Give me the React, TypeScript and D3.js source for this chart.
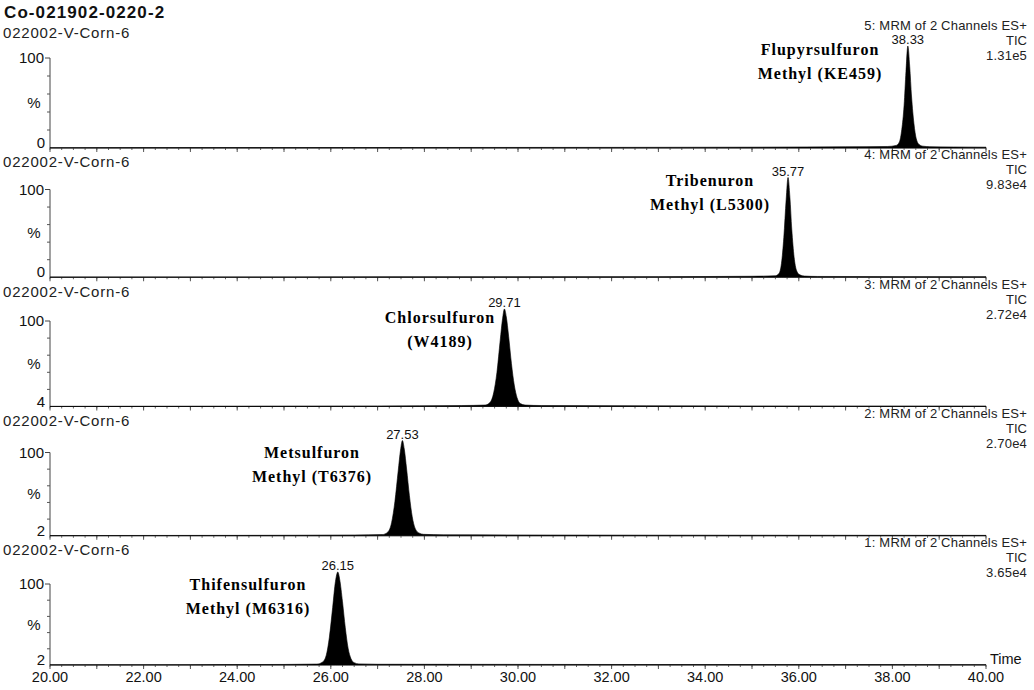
import * as d3 from "d3";

// time axis (minutes)
const timeTicks = [20, 22, 24, 26, 28, 30, 32, 34, 36, 38, 40];

// channels, top to bottom
const channels = [5, 4, 3, 2, 1];
const sampleName = "022002-V-Corn-6";
const runTitle = "Co-021902-0220-2";
const channelTitle = "MRM of 2 Channels ES+";
const intensities = ["1.31e5", "9.83e4", "2.72e4", "2.70e4", "3.65e4"];
const baseLabels = ["0", "0", "4", "2", "2"];
const peakTimes = [38.33, 35.77, 29.71, 27.53, 26.15];
const nameLine1 = ["Flupyrsulfuron", "Tribenuron", "Chlorsulfuron", "Metsulfuron", "Thifensulfuron"];
const nameLine2 = ["Methyl (KE459)", "Methyl (L5300)", "(W4189)", "Methyl (T6376)", "Methyl (M6316)"];

// traces: [time, %]
const trace5 = [
  [20, 0.3], [24, 0.4], [28, 0.5], [32, 0.6], [35, 0.8], [37, 1.2], [37.9, 1.5], [38.08, 2.5],
  [38.15, 6], [38.2, 18], [38.25, 42], [38.29, 75], [38.33, 100], [38.37, 80], [38.41, 50],
  [38.46, 24], [38.51, 9], [38.57, 3.5], [38.65, 1.8], [38.8, 1.3], [39.3, 1], [40, 0.8],
];
const trace4 = [
  [20, 0.2], [25, 0.3], [30, 0.4], [33, 0.6], [35, 1], [35.5, 1.5], [35.58, 4], [35.63, 14],
  [35.68, 40], [35.73, 78], [35.77, 100], [35.81, 80], [35.85, 48], [35.9, 20], [35.95, 7],
  [36.02, 2.5], [36.12, 1.2], [36.4, 0.8], [40, 0.5],
];
const trace3 = [
  [20, 0.2], [24, 0.4], [27, 0.6], [28.8, 1], [29.3, 1.5], [29.4, 4], [29.48, 14], [29.55, 35],
  [29.62, 68], [29.67, 90], [29.71, 100], [29.75, 92], [29.8, 72], [29.86, 44], [29.92, 22],
  [29.98, 9], [30.05, 3], [30.15, 1.5], [30.5, 1], [35, 0.6], [40, 0.5],
];
const trace2 = [
  [20, 0.2], [24, 0.4], [26.5, 0.8], [27.1, 1.2], [27.22, 4], [27.3, 14], [27.37, 36], [27.44, 68],
  [27.49, 90], [27.53, 100], [27.57, 91], [27.62, 70], [27.68, 42], [27.74, 20], [27.8, 8],
  [27.88, 3], [27.98, 1.5], [28.4, 1], [33, 0.6], [40, 0.4],
];
const trace1 = [
  [20, 0.2], [23, 0.3], [25, 0.6], [25.7, 1], [25.82, 3], [25.9, 10], [25.97, 30], [26.04, 62],
  [26.1, 90], [26.15, 100], [26.19, 92], [26.25, 68], [26.31, 40], [26.37, 18], [26.43, 7],
  [26.5, 2.5], [26.6, 1.2], [27, 0.8], [33, 0.5], [40, 0.4],
];
const traces = [trace5, trace4, trace3, trace2, trace1];

// layout
const W = 1034;
const H = 690;
const sans = "Liberation Sans, Arial, sans-serif";
const serif = "Liberation Serif, Times New Roman, serif";
const labelX = [820, 710, 440, 312, 248];
const labelDy = [4, 3, 9, 12, 13];

const x = d3.scaleLinear().domain([20, 40]).range([50, 986]);
const minorTicks = d3.range(20, 40.001, 0.25);
const majorTicks = d3.range(20, 40.001, 1);

function Panel({ i }: { i: number }) {
  const top = 46 + i * 131.5;
  const base = 148 + i * 129.25;
  const y = d3.scaleLinear().domain([0, 100]).range([base, top]);
  const area = d3
    .area<number[]>()
    .x((d) => x(d[0]))
    .y0(base)
    .y1((d) => y(d[1]))
    .curve(d3.curveMonotoneX);
  const tick100 = top + 12;
  const yTicks = [20, 40, 60, 80].map((v) => base - ((base - tick100) * v) / 100);

  return (
    <g>
      <text x={3} y={base - 110} fontFamily={sans} fontSize={15} letterSpacing={0.8} fill="#222">
        {sampleName}
      </text>
      <text x={1027} y={base - 118} textAnchor="end" fontFamily={sans} fontSize={13} letterSpacing={0.2} fill="#222">
        {`${channels[i]}: ${channelTitle}`}
      </text>
      <text x={1027} y={base - 103} textAnchor="end" fontFamily={sans} fontSize={13} fill="#222">
        TIC
      </text>
      <text x={1027} y={base - 88} textAnchor="end" fontFamily={sans} fontSize={13} letterSpacing={0.2} fill="#222">
        {intensities[i]}
      </text>

      {/* y axis */}
      <line x1={50} x2={50} y1={tick100} y2={base} stroke="#444" strokeWidth={1} />
      <line x1={45} x2={50} y1={tick100} y2={tick100} stroke="#444" strokeWidth={1} />
      {yTicks.map((t, k) => (
        <line key={k} x1={47} x2={50} y1={t} y2={t} stroke="#555" strokeWidth={1} />
      ))}
      <text x={44} y={tick100 + 5} textAnchor="end" fontFamily={sans} fontSize={15} fill="#111">
        100
      </text>
      <text x={34} y={(top + base) / 2 + 11} textAnchor="middle" fontFamily={sans} fontSize={15} fill="#111">
        %
      </text>
      <text x={45} y={base} textAnchor="end" fontFamily={sans} fontSize={15} fill="#111">
        {baseLabels[i]}
      </text>

      {/* x axis */}
      <line x1={50} x2={986} y1={base} y2={base} stroke="#555" strokeWidth={1} />
      {minorTicks.map((t) => (
        <line key={`m${t}`} x1={x(t)} x2={x(t)} y1={base} y2={base + 2} stroke="#666" strokeWidth={1} />
      ))}
      {majorTicks.map((t) => (
        <line key={`M${t}`} x1={x(t)} x2={x(t)} y1={base} y2={base + 4} stroke="#555" strokeWidth={1} />
      ))}

      <path d={area(traces[i]) ?? ""} fill="#000" stroke="#000" strokeWidth={0.6} />

      <text x={x(peakTimes[i])} y={top - 2} textAnchor="middle" fontFamily={sans} fontSize={13} fill="#111">
        {peakTimes[i].toFixed(2)}
      </text>

      <text
        x={labelX[i]}
        y={top + labelDy[i] + 5}
        textAnchor="middle"
        fontFamily={serif}
        fontWeight="bold"
        fontSize={16}
        letterSpacing={1}
        fill="#000"
      >
        {nameLine1[i]}
      </text>
      <text
        x={labelX[i]}
        y={top + labelDy[i] + 29}
        textAnchor="middle"
        fontFamily={serif}
        fontWeight="bold"
        fontSize={16}
        letterSpacing={1}
        fill="#000"
      >
        {nameLine2[i]}
      </text>
    </g>
  );
}

export default function App() {
  const lastBase = 148 + 4 * 129.25;
  return (
    <svg
      width={W}
      height={H}
      viewBox={`0 0 ${W} ${H}`}
      style={{ position: "absolute", left: 0, top: 0, background: "#fff" }}
    >
      <rect width={W} height={H} fill="#fff" />
      <text x={4} y={18} fontFamily={sans} fontWeight="bold" fontSize={17} letterSpacing={1.1} fill="#111">
        {runTitle}
      </text>
      {channels.map((c, i) => (
        <Panel key={c} i={i} />
      ))}
      {timeTicks.map((t) => (
        <text key={t} x={x(t)} y={lastBase + 17} textAnchor="middle" fontFamily={sans} fontSize={14.5} fill="#111">
          {t.toFixed(2)}
        </text>
      ))}
      <text x={990} y={lastBase - 1} fontFamily={sans} fontSize={14.5} fill="#111">
        Time
      </text>
    </svg>
  );
}
